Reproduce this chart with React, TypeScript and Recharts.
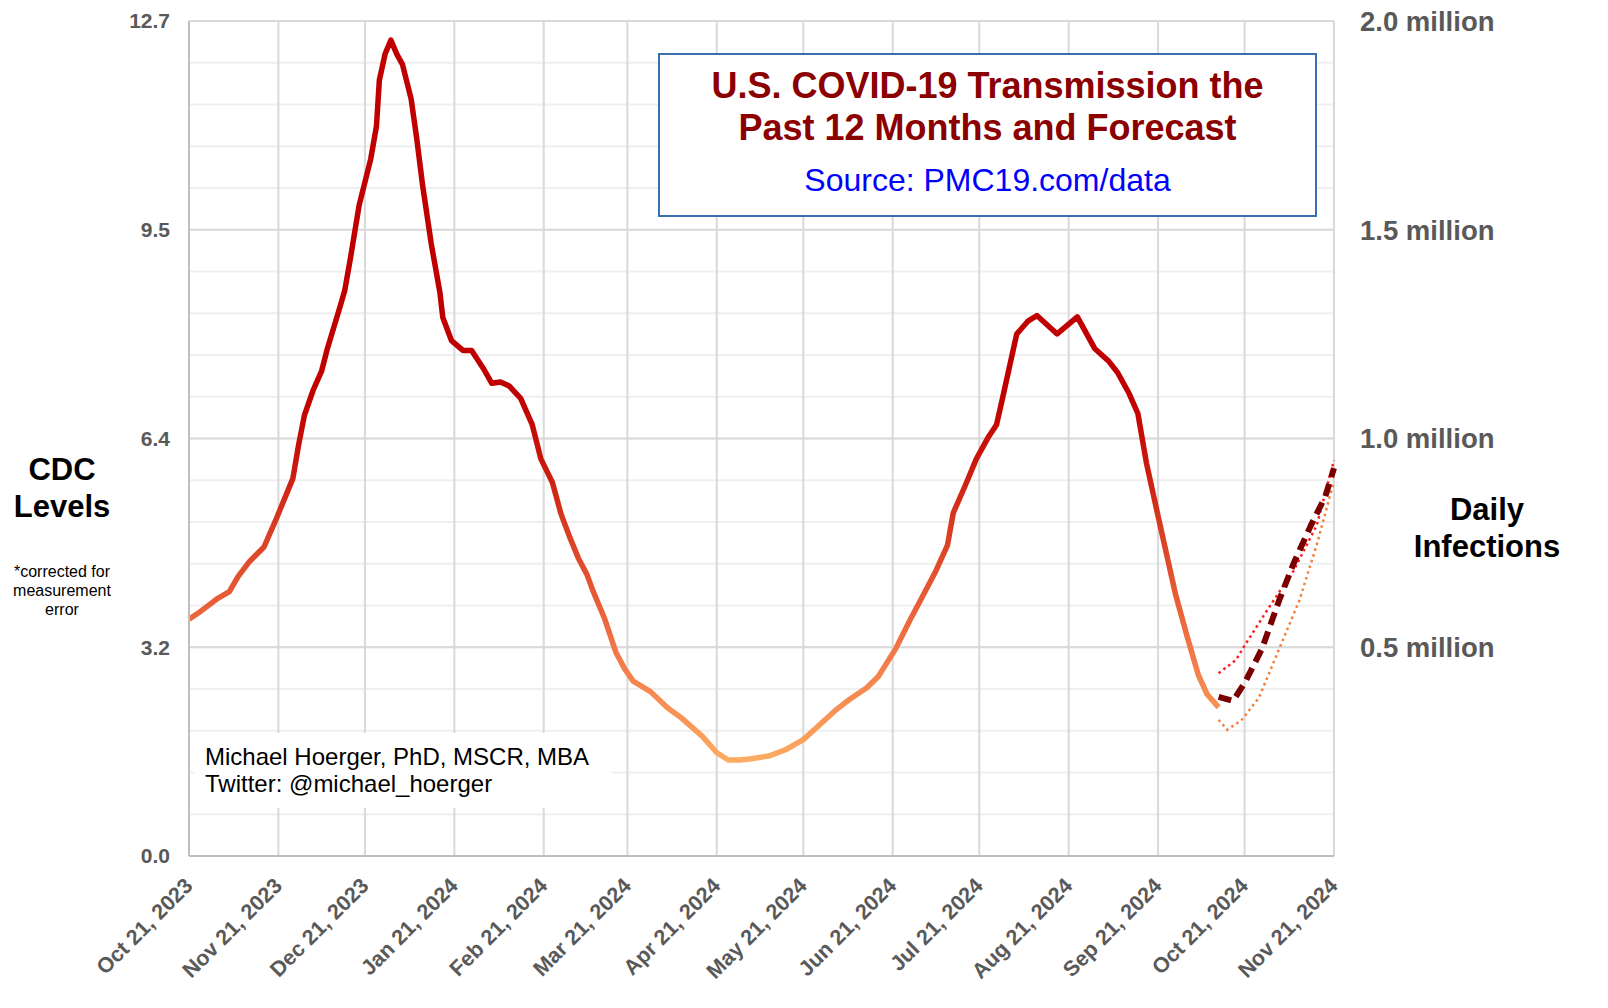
import { LineChart, Line, XAxis, YAxis, CartesianGrid } from 'recharts';

// x values are days since Oct 21, 2023
const monthTickDays = [0, 31, 61, 92, 123, 152, 183, 213, 244, 274, 305, 336, 366, 397];
const monthTickLabels = [
  'Oct 21, 2023', 'Nov 21, 2023', 'Dec 21, 2023', 'Jan 21, 2024', 'Feb 21, 2024',
  'Mar 21, 2024', 'Apr 21, 2024', 'May 21, 2024', 'Jun 21, 2024', 'Jul 21, 2024',
  'Aug 21, 2024', 'Sep 21, 2024', 'Oct 21, 2024', 'Nov 21, 2024',
];

const levelDays = [
  0, 4, 7, 10, 14, 17, 21, 26, 30, 33, 36, 38, 40, 43, 46, 48, 52, 54, 56, 59,
  63, 65, 66, 68, 70, 72, 74, 77, 79, 81, 84, 87, 88, 91, 95, 98, 102, 105, 108, 111,
  115, 119, 122, 126, 129, 132, 135, 138, 140, 144, 148, 151, 154, 160, 166, 171, 178, 183, 187, 191,
  195, 201, 207, 213, 218, 224, 229, 235, 239, 245, 250, 254, 259, 263, 265, 269, 273, 277, 280, 282,
  287, 291, 294, 301, 308, 314, 319, 322, 326, 329, 332, 336, 339, 342, 346, 350, 353, 357,
];
const levelValues = [
  3.6, 3.72, 3.82, 3.92, 4.02, 4.25, 4.48, 4.7, 5.1, 5.42, 5.74, 6.25, 6.7, 7.08, 7.38, 7.72, 8.3, 8.6, 9.1, 9.9,
  10.6, 11.1, 11.8, 12.2, 12.41, 12.2, 12.04, 11.52, 10.9, 10.2, 9.31, 8.57, 8.19, 7.84, 7.69, 7.69, 7.42, 7.19, 7.21, 7.15,
  6.96, 6.56, 6.04, 5.68, 5.2, 4.85, 4.53, 4.28, 4.04, 3.62, 3.1, 2.85, 2.66, 2.5, 2.25, 2.09, 1.82, 1.57, 1.46, 1.46,
  1.48, 1.52, 1.62, 1.77, 1.97, 2.21, 2.38, 2.56, 2.73, 3.15, 3.59, 3.92, 4.34, 4.73, 5.22, 5.62, 6.04, 6.36, 6.56, 6.95,
  7.94, 8.14, 8.22, 7.94, 8.2, 7.72, 7.52, 7.35, 7.03, 6.73, 5.97, 5.17, 4.58, 3.99, 3.35, 2.75, 2.46, 2.26,
];

const forecastDays = [357, 362, 366, 372, 378, 383, 389, 394, 397];
const forecastValues = [2.42, 2.36, 2.63, 3.15, 3.89, 4.45, 5.03, 5.47, 5.9];
const upperDays = [357, 363, 366, 374, 383, 391, 397];
const upperValues = [2.78, 2.98, 3.2, 3.75, 4.34, 5.03, 6.02];
const lowerDays = [357, 360, 365, 371, 378, 385, 391, 397];
const lowerValues = [2.07, 1.92, 2.07, 2.41, 3.15, 3.89, 4.73, 5.7];

const levelTicks = [0, 3.175, 6.35, 9.525, 12.7];
const levelTickLabels = ['0.0', '3.2', '6.4', '9.5', '12.7'];
const infectionTicks = [0.5, 1.0, 1.5, 2.0];
const minorLevels = Array.from({ length: 21 }, (_, i) => (12.7 / 20) * i);

// line colour by level (high = dark red, low = light orange)
const colorByLevel = [
  { v: 12.41, c: '#c00000' },
  { v: 7.0, c: '#c00000' },
  { v: 6.0, c: '#c9160c' },
  { v: 5.0, c: '#d83c22' },
  { v: 4.0, c: '#e65a34' },
  { v: 3.0, c: '#f27b4a' },
  { v: 2.0, c: '#f99858' },
  { v: 1.46, c: '#fcac62' },
];

const rows = (days: number[], values: number[]) => days.map((day, i) => ({ day, v: values[i] }));
const levelRows = rows(levelDays, levelValues);
const forecastRows = rows(forecastDays, forecastValues);
const upperRows = rows(upperDays, upperValues);
const lowerRows = rows(lowerDays, lowerValues);
// invisible series so the right-hand (daily infections) axis gets drawn
const infectionAxisRows = infectionTicks.map((v) => ({ day: 0, v }));

const maxLevel = Math.max(...levelValues);
const minLevel = Math.min(...levelValues);

const GRAY = '#595959';

function DateTick(props: any) {
  const { x, y, payload } = props;
  const label = monthTickLabels[monthTickDays.indexOf(payload.value)];
  const ax = x + 5;
  const ay = y + 31;
  return (
    <text
      x={ax}
      y={ay}
      transform={`rotate(-45 ${ax} ${ay})`}
      textAnchor="end"
      fill={GRAY}
      fontSize={21.5}
      fontWeight="bold"
    >
      {label}
    </text>
  );
}

export default function App() {
  // the wrapper is pulled up over the body margin so the top tick label has room
  return (
    <div style={{ position: 'relative', marginTop: -8, width: 1592, height: 998, fontFamily: '"Liberation Sans", Arial, sans-serif', background: '#fff' }}>
      <LineChart width={1592} height={998} margin={{ top: 21, right: 0, bottom: 0, left: 0 }}>
        <defs>
          <linearGradient id="levelColor" x1="0" y1="0" x2="0" y2="1">
            {colorByLevel.map((s) => (
              <stop key={s.v} offset={(maxLevel - s.v) / (maxLevel - minLevel)} stopColor={s.c} />
            ))}
          </linearGradient>
        </defs>
        <CartesianGrid horizontalValues={minorLevels} vertical={false} stroke="#efefef" strokeWidth={2} />
        <CartesianGrid horizontalValues={levelTicks} verticalValues={monthTickDays} stroke="#d9d9d9" strokeWidth={2} />
        <XAxis
          type="number"
          dataKey="day"
          domain={[0, 397]}
          ticks={monthTickDays}
          interval={0}
          height={142}
          tickSize={0}
          tickMargin={0}
          tickLine={false}
          axisLine={{ stroke: '#bfbfbf', strokeWidth: 2 }}
          tick={<DateTick />}
        />
        <YAxis
          type="number"
          domain={[0, 12.7]}
          ticks={levelTicks}
          interval={0}
          width={181}
          tickSize={0}
          tickMargin={19}
          tickLine={false}
          axisLine={{ stroke: '#bfbfbf', strokeWidth: 2 }}
          tick={{ fill: GRAY, fontSize: 21, fontWeight: 'bold' }}
          tickFormatter={(v: number) => levelTickLabels[levelTicks.indexOf(v)]}
        />
        <YAxis
          yAxisId="right"
          orientation="right"
          type="number"
          domain={[0, 2]}
          ticks={infectionTicks}
          interval={0}
          width={266}
          tickSize={0}
          tickMargin={26}
          tickLine={false}
          axisLine={false}
          tick={{ fill: GRAY, fontSize: 27.5, fontWeight: 'bold', textAnchor: 'start' }}
          tickFormatter={(v: number) => `${v.toFixed(1)} million`}
        />
        <Line yAxisId="right" data={infectionAxisRows} dataKey="v" stroke="none" dot={false} activeDot={false} isAnimationActive={false} />
        <Line data={levelRows} dataKey="v" type="linear" stroke="url(#levelColor)" strokeWidth={5.5} strokeLinejoin="round" dot={false} isAnimationActive={false} />
        <Line data={upperRows} dataKey="v" type="linear" stroke="#ff1a1a" strokeWidth={2.5} strokeDasharray="2.5 3.5" dot={false} isAnimationActive={false} />
        <Line data={lowerRows} dataKey="v" type="linear" stroke="#f0803c" strokeWidth={2.5} strokeDasharray="2.5 3.5" dot={false} isAnimationActive={false} />
        <Line data={forecastRows} dataKey="v" type="linear" stroke="#7a0000" strokeWidth={6} strokeDasharray="13 7" dot={false} isAnimationActive={false} />
      </LineChart>

      <div style={{ position: 'absolute', left: 650, top: 53, width: 655, height: 160, border: '2px solid #3870b0', background: '#fff', textAlign: 'center' }}>
        <div style={{ marginTop: 10, color: '#8b0000', fontWeight: 'bold', fontSize: 36, lineHeight: '42px' }}>
          U.S. COVID-19 Transmission the
          <br />
          Past 12 Months and Forecast
        </div>
        <div style={{ marginTop: 12, color: '#0000ff', fontSize: 32, lineHeight: '38px' }}>Source: PMC19.com/data</div>
      </div>

      <div style={{ position: 'absolute', left: 187, top: 733, width: 417, height: 75, background: '#fff', boxSizing: 'border-box', padding: '10px 0 0 10px', fontSize: 24, lineHeight: '27px', color: '#000' }}>
        Michael Hoerger, PhD, MSCR, MBA
        <br />
        Twitter: @michael_hoerger
      </div>

      <div style={{ position: 'absolute', left: 0, top: 451, width: 108, textAlign: 'center', fontSize: 31, fontWeight: 'bold', lineHeight: '37px', color: '#000' }}>
        CDC
        <br />
        Levels
      </div>
      <div style={{ position: 'absolute', left: 0, top: 562, width: 108, textAlign: 'center', fontSize: 16, lineHeight: '19px', color: '#000' }}>
        *corrected for
        <br />
        measurement
        <br />
        error
      </div>
      <div style={{ position: 'absolute', left: 1389, top: 491, width: 180, textAlign: 'center', fontSize: 31, fontWeight: 'bold', lineHeight: '37px', color: '#000' }}>
        Daily
        <br />
        Infections
      </div>
    </div>
  );
}
